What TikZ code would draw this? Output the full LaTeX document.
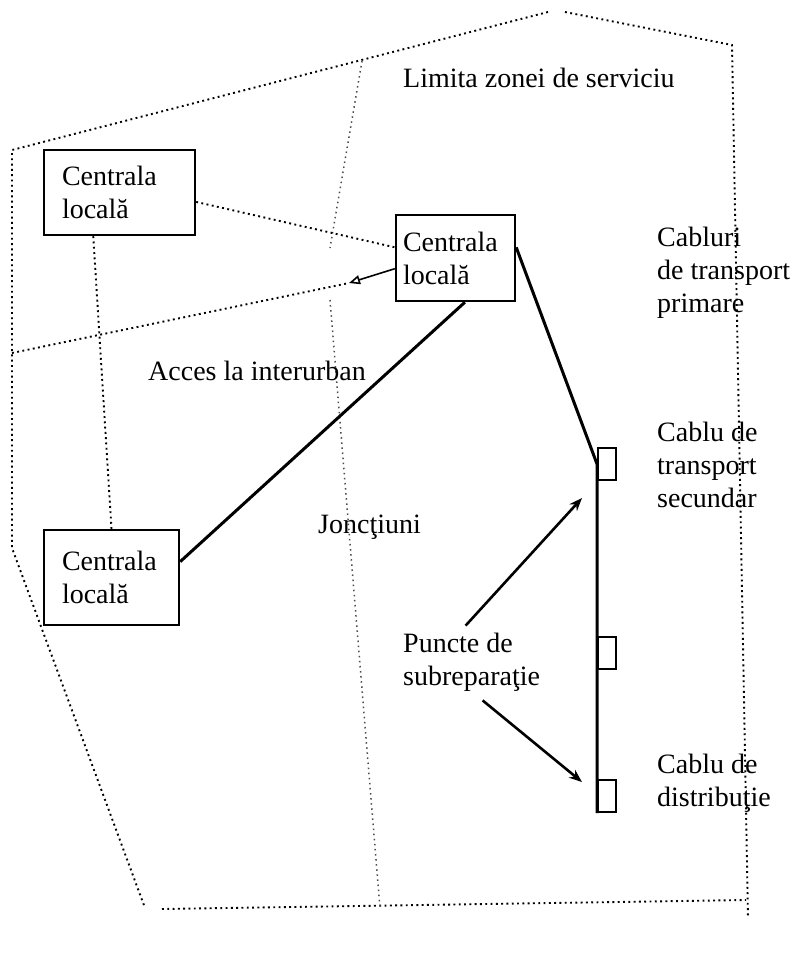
\documentclass[tikz,border=0pt]{standalone}
\usepackage{fontspec}
\setmainfont{Liberation Serif}
\usepackage{tikz}
\usetikzlibrary{arrows.meta}
\tikzset{
	boxstyle/.style={rectangle,draw=black,line width=2.4pt,align=left,inner ysep=0pt},
	padstyle/.style={rectangle,draw=black,line width=2pt,minimum width=18pt,minimum height=32pt,inner sep=0pt},
	labelstyle/.style={anchor=west,align=left,inner sep=0pt},
	zonestyle/.style={line width=1.9pt,dash pattern=on 1.9pt off 3.4pt},
	pathstyle/.style={line width=1.5pt,dash pattern=on 1.5pt off 3.6pt,black!70},
	cablestyle/.style={line width=3pt},
	pointstyle/.style={line width=2.6pt,-{Stealth[length=13pt,width=10pt]}}
}
\begin{document}
\begin{tikzpicture}[x=1pt,y=-1pt]
		\fontsize{28}{33}\selectfont
		\useasboundingbox (0,0) rectangle (795,954);
		% zone boundary
		\draw[zonestyle] (565,12) -- (732,45) -- (748,918);
		\draw[zonestyle] (548,12) -- (12,150) -- (12,548) -- (145,908);
		\draw[zonestyle] (162,909) -- (746,900);
		\draw[pathstyle] (362,61) -- (330,248);
		\draw[pathstyle] (330,300) -- (380,908);
		% exchanges
		\node[boxstyle,text width=115pt,inner xsep=18pt,minimum height=85pt] (c1) at (119.5,192.5) {Centrala\\locală};
		\node[boxstyle,text width=105pt,inner xsep=7pt,minimum height=86pt] (c2) at (455.5,258) {Centrala\\locală};
		\node[boxstyle,text width=99pt,inner xsep=18pt,minimum height=95pt] (c3) at (111.5,577.5) {Centrala\\locală};
		\node[padstyle] (r1) at (607,464) {};
		\node[padstyle] (r2) at (607,653) {};
		\node[padstyle] (r3) at (607,796) {};
		% labels
		\node[labelstyle] (zona) at (403,78) {Limita zonei de serviciu};
		\node[labelstyle] (prim) at (657,273) {Cabluri\\de transport\\primare};
		\node[labelstyle] (acces) at (148,371) {Acces la interurban};
		\node[labelstyle] (jonc) at (318,527) {Joncţiuni};
		\node[labelstyle] (sec) at (657,465) {Cablu de\\transport\\secundar};
		\node[labelstyle] (punct) at (403,662) {Puncte de\\subreparaţie};
		\node[labelstyle] (dist) at (657,783) {Cablu de\\distribuţie};
		\coordinate (acc) at (349,283);
		\coordinate (p1) at (582,498);
		\coordinate (p2) at (582,782);
		% links
		\draw[zonestyle] (c1.-7) -- (c2.170);
		\draw[zonestyle] (c1.239) -- (c3.north);
		\draw[zonestyle] (12,353) -- (acc);
		\draw[line width=1.6pt,-{Triangle[open,length=11pt,width=9pt]}] (c2.190) -- (acc);
		\draw[cablestyle] (c3.13) -- (c2.282);
		\draw[cablestyle] (c2.10) -- (r1.west) -- (r3.south west);
		\draw[pointstyle] ([xshift=-6pt,yshift=7pt]punct.north) -- (p1);
		\draw[pointstyle] ([xshift=11pt,yshift=-9pt]punct.south) -- (p2);
\end{tikzpicture}
\end{document}
